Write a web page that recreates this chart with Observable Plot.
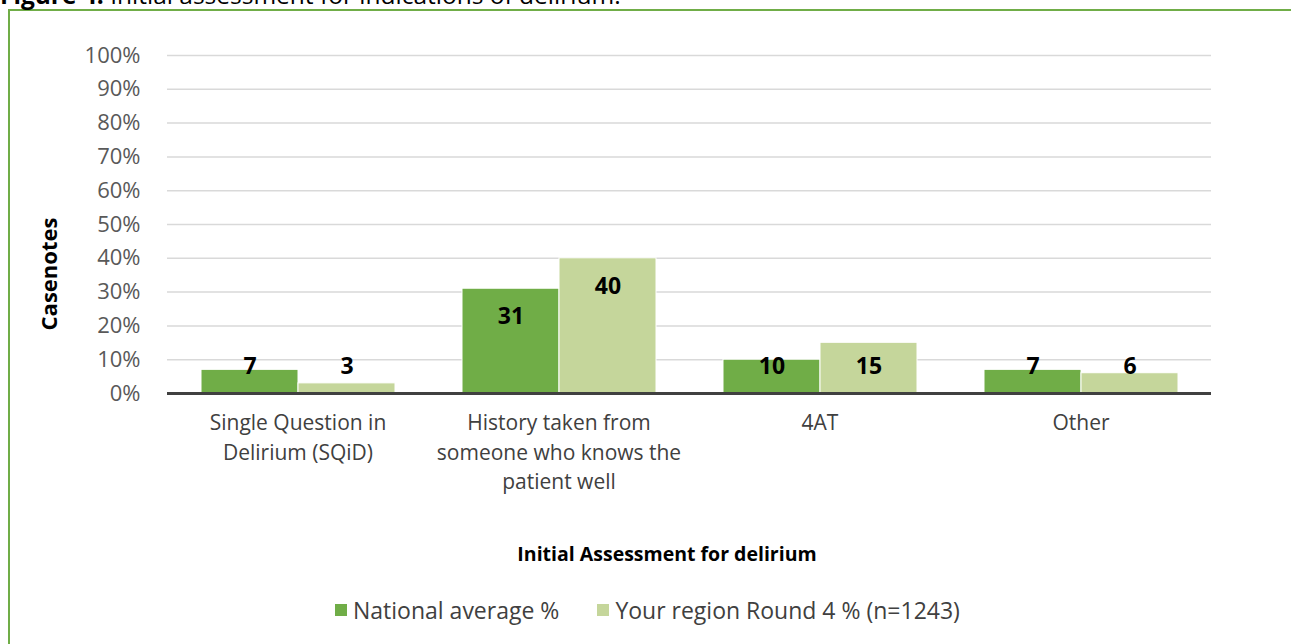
<!DOCTYPE html>
<html>
<head>
<meta charset="utf-8">
<script src="https://cdn.jsdelivr.net/npm/d3@7"></script>
<script src="https://cdn.jsdelivr.net/npm/@observablehq/plot@0.6"></script>
<style>
  html, body { margin: 0; padding: 0; background: #fff; overflow: hidden; }
  body { width: 1291px; height: 644px; position: relative; font-family: "Open Sans", sans-serif; }
  #frame { position: absolute; left: 8px; top: 9px; width: 1320px; height: 700px; border: 2px solid #70ad47; box-sizing: border-box; }
  #title { position: absolute; left: 0px; top: -17px; font-size: 24.5px; line-height: 24px; color: #000; white-space: nowrap; }
  #chart { position: absolute; left: 0; top: 0; }
  #ytitle { position: absolute; left: 48px; top: 274px; transform: translate(-50%, -50%) rotate(-90deg); font-size: 22px; font-weight: bold; color: #000; white-space: nowrap; }
  #xtitle { position: absolute; left: 667px; top: 553px; transform: translate(-50%, -50%); font-size: 19.5px; font-weight: bold; color: #000; white-space: nowrap; }
  #legend { position: absolute; left: 335px; top: 610px; transform: translateY(-50%); display: flex; align-items: center; font-size: 23px; color: #404040; white-space: nowrap; }
  .sw { display: inline-block; width: 12px; height: 12px; margin-right: 6px; }
  .item { display: flex; align-items: center; margin-right: 38px; }
</style>
</head>
<body>
<div id="frame"></div>
<div id="title"><b>Figure 4:</b> Initial assessment for indications of delirium.</div>
<div id="chart"></div>
<div id="ytitle">Casenotes</div>
<div id="xtitle">Initial Assessment for delirium</div>
<div id="legend"></div>
<script>
const categories = [
  "Single Question in\nDelirium (SQiD)",
  "History taken from\nsomeone who knows the\npatient well",
  "4AT",
  "Other"
];
const series = ["National average %", "Your region Round 4 % (n=1243)"];
const national = [7, 31, 10, 7];
const region = [3, 40, 15, 6];
const yTicks = [0, 10, 20, 30, 40, 50, 60, 70, 80, 90, 100];
const colors = ["#70ad47", "#c5d69b"];

const data = [];
categories.forEach((c, i) => {
  data.push({category: c, series: series[0], value: national[i]});
  data.push({category: c, series: series[1], value: region[i]});
});

const chart = Plot.plot({
  width: 1291,
  height: 520,
  marginLeft: 165,
  marginRight: 79,
  marginTop: 55,
  marginBottom: 127,
  style: {fontFamily: "Open Sans, sans-serif", background: "transparent"},
  fx: {domain: categories, padding: 0, label: null},
  x: {domain: series, paddingInner: 0, paddingOuter: 0.337, axis: null},
  y: {domain: [0, 100], label: null},
  color: {domain: series, range: colors},
  marks: [
    Plot.ruleY(yTicks, {stroke: "#d9d9d9", strokeWidth: 1.5}),
    Plot.barY(data, {fx: "category", x: "series", y: "value", fill: "series", stroke: "#fff", strokeWidth: 1}),
    Plot.ruleY([0], {stroke: "#404040", strokeWidth: 3}),
    Plot.text(data, {
      fx: "category", x: "series",
      y: d => Math.max(d.value - 8.3, 8),
      text: d => String(d.value),
      fontWeight: "bold", fontSize: 23, fill: "#000", textAnchor: "middle", lineAnchor: "middle"
    }),
    Plot.axisY(yTicks, {tickSize: 0, tickPadding: 27, tickFormat: d => d + "%", fontSize: 22, color: "#595959", label: null}),
    Plot.axisFx({anchor: "bottom", tickSize: 0, tickPadding: 16, fontSize: 21, lineHeight: 1.4, color: "#404040", label: null})
  ]
});
document.getElementById("chart").appendChild(chart);

const legend = document.getElementById("legend");
series.forEach((s, i) => {
  const item = document.createElement("span");
  item.className = "item";
  const sw = document.createElement("span");
  sw.className = "sw";
  sw.style.background = colors[i];
  item.appendChild(sw);
  item.appendChild(document.createTextNode(s));
  legend.appendChild(item);
});
</script>
</body>
</html>
